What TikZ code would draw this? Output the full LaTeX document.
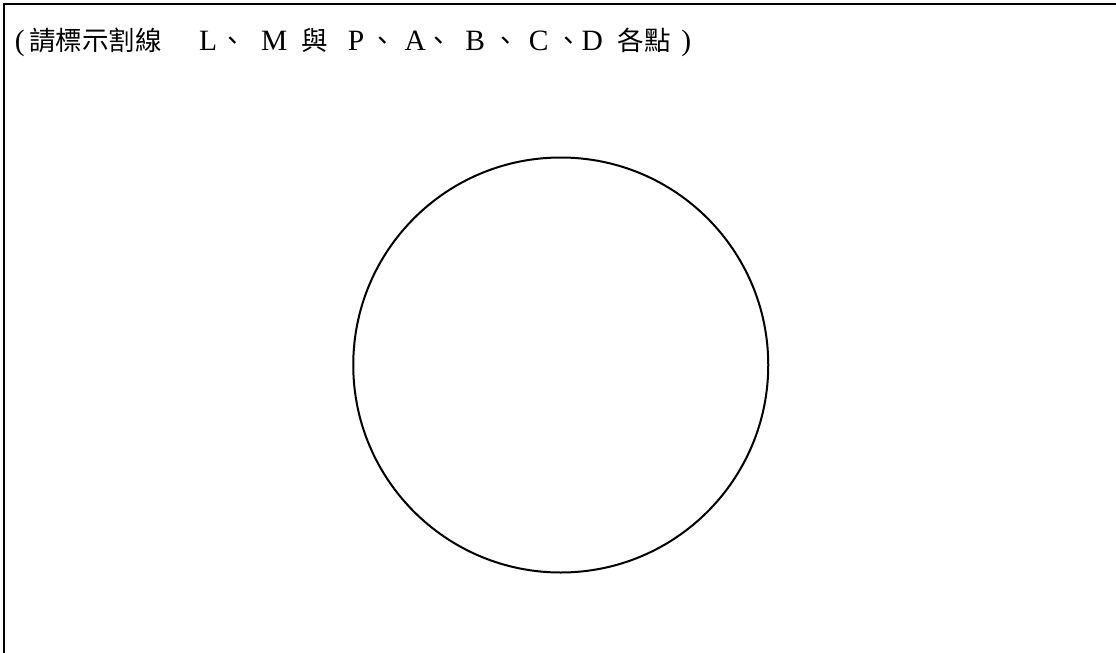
\documentclass[tikz,border=0pt]{standalone}
\usepackage{fontspec}
\setmainfont{Liberation Serif}
\newfontfamily\cjkfont{Noto Sans CJK TC}
\newcommand\putc[2]{\rlap{\hspace*{#1pt}\makebox[0pt][c]{#2}}}
\newcommand\cj[1]{{\cjkfont\fontsize{26.5}{30}\selectfont #1}}
\tikzset{
  frameline/.style={line width=2.5pt, line join=miter},
  ringline/.style={line width=2pt},
  titletext/.style={anchor=base west, inner sep=0pt, font=\fontsize{29.5}{34}\selectfont}
}
\begin{document}
\begin{tikzpicture}[x=1pt,y=-1pt]
\useasboundingbox (0,0) rectangle (1116,653);
\fill[white] (0,0) rectangle (1116,653);
\coordinate (tr) at (1116,4);
\coordinate (tl) at (4,4);
\coordinate (bl) at (4,653);
\draw[frameline] (tr) -- (tl) -- (bl);
\node[titletext] (title) at (15,50) {%
\putc{4.5}{(}%
\putc{80.25}{\cj{請標示割線}}%
\putc{193}{L}%
\putc{218}{\cj{、}}%
\putc{259}{M}%
\putc{300}{\cj{與}}%
\putc{341}{P}%
\putc{368}{\cj{、}}%
\putc{400}{A}%
\putc{424}{\cj{、}}%
\putc{460}{B}%
\putc{491}{\cj{、}}%
\putc{523.5}{C}%
\putc{553.5}{\cj{、}}%
\putc{577}{D}%
\putc{629}{\cj{各點}}%
\putc{671}{)}%
\hspace*{677pt}};
\coordinate (O) at (560.75,365);
\draw[ringline] (O) circle[radius=207.5];
\end{tikzpicture}
\end{document}
